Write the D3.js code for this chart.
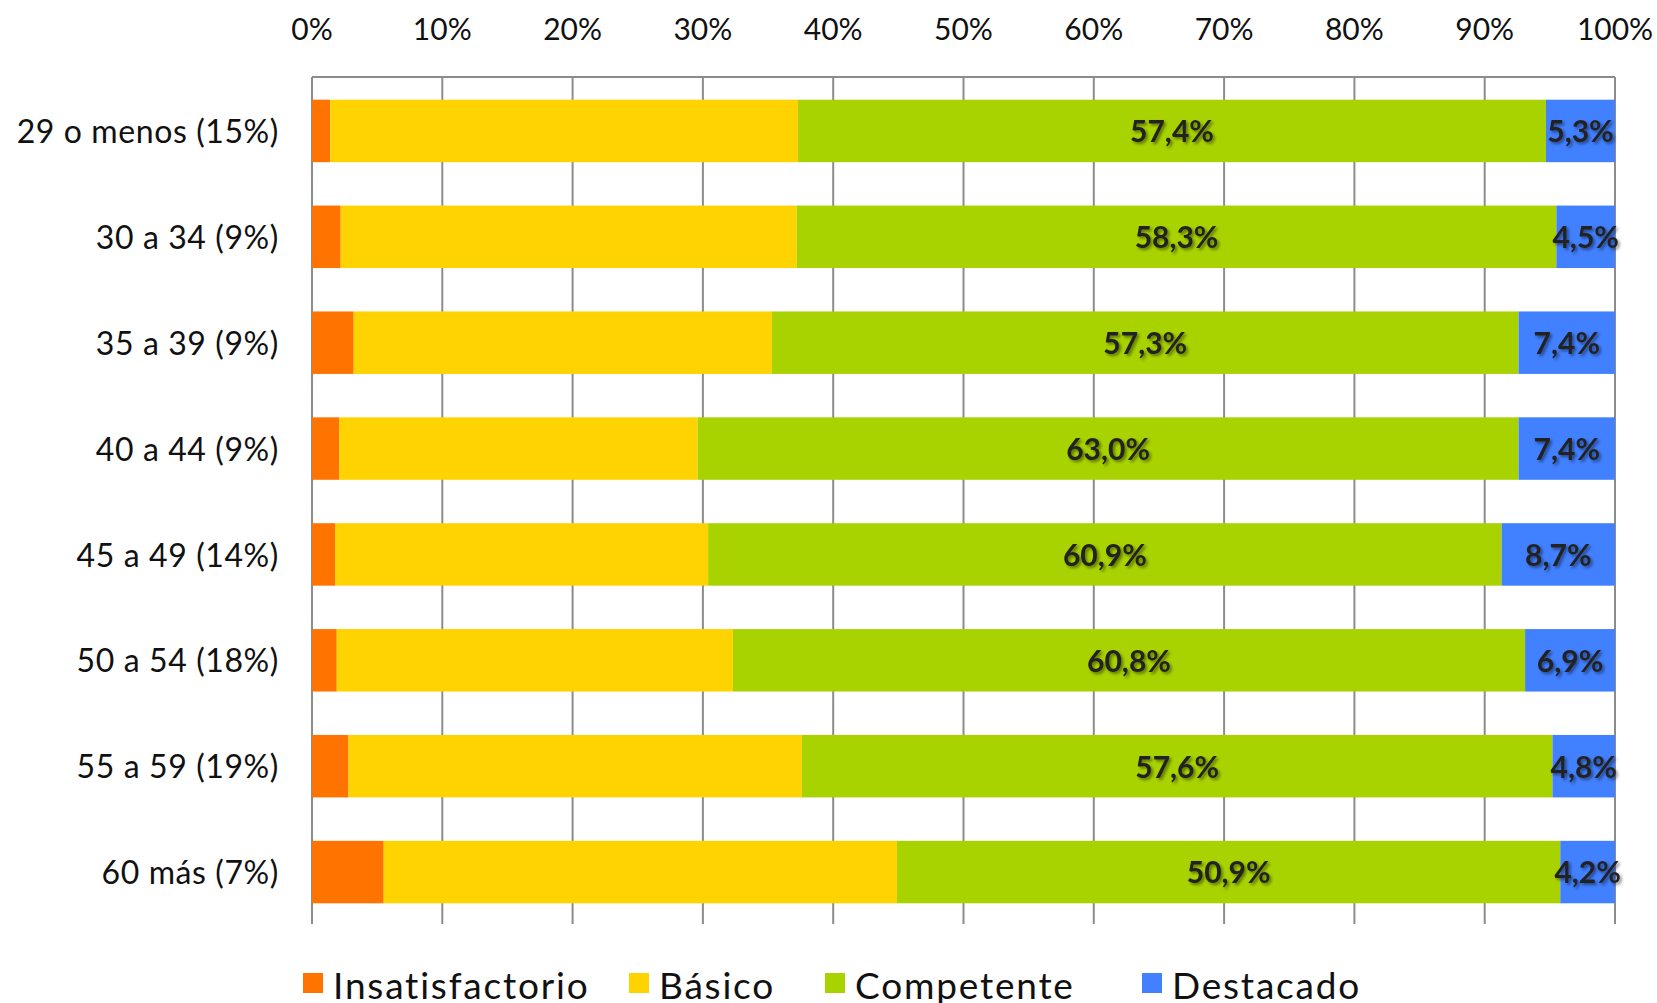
<!DOCTYPE html>
<html>
<head>
<meta charset="utf-8">
<script src="https://cdn.jsdelivr.net/npm/d3@7"></script>
<style>
  body { margin: 0; background: #fff; }
  svg text { font-family: Lato, "Open Sans", sans-serif; }
</style>
</head>
<body>
<div id="chart"></div>
<script>
// categories (age groups) and series values in percent
const groups = ["29 o menos (15%)", "30 a 34 (9%)", "35 a 39 (9%)", "40 a 44 (9%)",
                "45 a 49 (14%)", "50 a 54 (18%)", "55 a 59 (19%)", "60 más (7%)"];
const seriesNames = ["Insatisfactorio", "Básico", "Competente", "Destacado"];
const insatisfactorio = [1.4, 2.2, 3.2, 2.1, 1.8, 1.9, 2.8, 5.5];
const basico = [35.9, 35.0, 32.1, 27.5, 28.6, 30.4, 34.8, 39.4];
const competente = [57.4, 58.3, 57.3, 63.0, 60.9, 60.8, 57.6, 50.9];
const destacado = [5.3, 4.5, 7.4, 7.4, 8.7, 6.9, 4.8, 4.2];
const tickValues = [0, 10, 20, 30, 40, 50, 60, 70, 80, 90, 100];
const colors = ["#ff7300", "#ffd300", "#a8d300", "#4180ff"];

const width = 1657, height = 1003;
const margin = { top: 77, right: 42, bottom: 79, left: 312 };

const svg = d3.select("#chart").append("svg")
    .attr("width", width)
    .attr("height", height);

// drop shadow for the value labels
const defs = svg.append("defs");
defs.append("filter")
    .attr("id", "shadow")
    .attr("x", "-20%").attr("y", "-20%")
    .attr("width", "140%").attr("height", "140%")
    .append("feDropShadow")
    .attr("dx", 2).attr("dy", 2)
    .attr("stdDeviation", 1.5)
    .attr("flood-color", "#000")
    .attr("flood-opacity", 0.45);

const rows = groups.map((g, i) => ({
    group: g,
    Insatisfactorio: insatisfactorio[i],
    "Básico": basico[i],
    Competente: competente[i],
    Destacado: destacado[i]
}));

const stacked = d3.stack().keys(seriesNames)(rows);

const x = d3.scaleLinear()
    .domain([0, 100])
    .range([margin.left, width - margin.right]);

const y = d3.scaleBand()
    .domain(groups)
    .range([margin.top + 1, height - margin.bottom + 1])
    .paddingInner(0.41)
    .paddingOuter(0.205);

const plotBottom = height - margin.bottom;

// vertical gridlines
svg.append("g")
    .selectAll("line")
    .data(tickValues)
    .join("line")
    .attr("x1", d => x(d)).attr("x2", d => x(d))
    .attr("y1", margin.top).attr("y2", plotBottom)
    .attr("stroke", "#8c8c8c")
    .attr("stroke-width", 2);

// top axis line
svg.append("line")
    .attr("x1", x(0)).attr("x2", x(100))
    .attr("y1", margin.top).attr("y2", margin.top)
    .attr("stroke", "#8c8c8c")
    .attr("stroke-width", 2);

// top tick labels
svg.append("g")
    .selectAll("text")
    .data(tickValues)
    .join("text")
    .attr("x", d => x(d))
    .attr("y", 40)
    .attr("text-anchor", "middle")
    .attr("font-size", "30px")
    .attr("fill", "#111")
    .text(d => d + "%");

// bars
svg.append("g")
    .selectAll("g")
    .data(stacked)
    .join("g")
    .attr("fill", (d, i) => colors[i])
    .selectAll("rect")
    .data(d => d)
    .join("rect")
    .attr("x", d => x(d[0]))
    .attr("y", d => y(d.data.group))
    .attr("width", d => x(d[1]) - x(d[0]))
    .attr("height", y.bandwidth());

// category labels
svg.append("g")
    .selectAll("text")
    .data(groups)
    .join("text")
    .attr("x", 279)
    .attr("y", d => y(d) + y.bandwidth() / 2)
    .attr("dy", "0.38em")
    .attr("text-anchor", "end")
    .attr("font-size", "32px")
    .attr("letter-spacing", "0.6px")
    .attr("fill", "#111")
    .text(d => d);

// value labels for Competente and Destacado
const fmt = v => v.toFixed(1).replace(".", ",") + "%";
svg.append("g")
    .selectAll("g")
    .data(stacked.slice(2))
    .join("g")
    .selectAll("text")
    .data(d => d)
    .join("text")
    .attr("x", d => (x(d[0]) + x(d[1])) / 2)
    .attr("y", d => y(d.data.group) + y.bandwidth() / 2)
    .attr("dy", "0.38em")
    .attr("text-anchor", "middle")
    .attr("font-size", "30px")
    .attr("font-weight", "bold")
    .attr("fill", "#222")
    .attr("filter", "url(#shadow)")
    .text(d => fmt(d[1] - d[0]));

// legend
const legendX = [303, 629, 825, 1142];
const legend = svg.append("g");
seriesNames.forEach((name, i) => {
    legend.append("rect")
        .attr("x", legendX[i])
        .attr("y", 973)
        .attr("width", 20)
        .attr("height", 20)
        .attr("fill", colors[i]);
    legend.append("text")
        .attr("x", legendX[i] + 30)
        .attr("y", 999)
        .attr("font-size", "37px")
        .attr("letter-spacing", "1.8px")
        .attr("fill", "#111")
        .text(name);
});
</script>
</body>
</html>
